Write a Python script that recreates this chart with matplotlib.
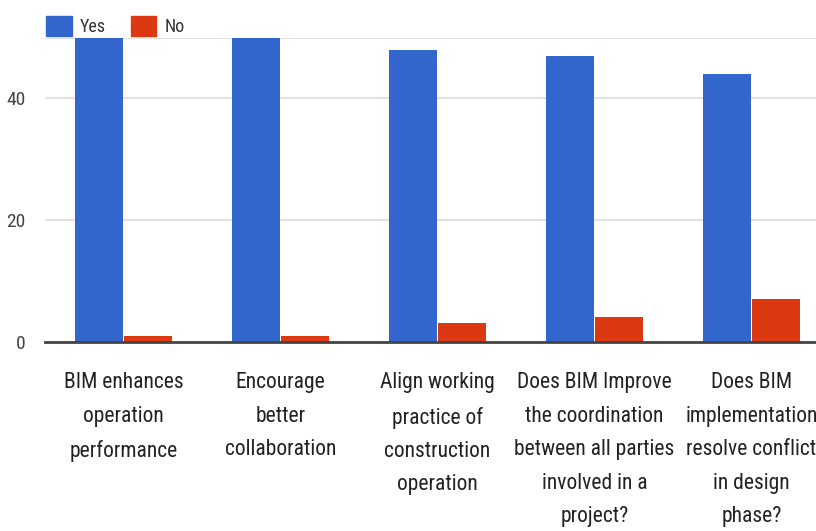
import numpy as np
import matplotlib.pyplot as plt
from matplotlib.patches import Patch

# survey answers per statement
categories = [
    "BIM enhances\noperation\nperformance",
    "Encourage\nbetter\ncollaboration",
    "Align working\npractice of\nconstruction\noperation",
    "Does BIM Improve\nthe coordination\nbetween all parties\ninvolved in a\nproject?",
    "Does BIM\nimplementation\nresolve conflict\nin design\nphase?",
]
yes_counts = [50, 50, 48, 47, 44]
no_counts = [1, 1, 3, 4, 7]
series_names = ["Yes", "No"]

blue = "#3366cc"
red = "#dc3912"
plt.rcParams['font.family'] = ['Roboto Condensed', 'Liberation Sans Narrow', 'Noto Sans', 'DejaVu Sans']
plt.rcParams['font.stretch'] = 'condensed'

fig = plt.figure(figsize=(8.16, 5.31), dpi=100)
ax = fig.add_axes([45 / 816, 189.3 / 531, 785 / 816, 304.2 / 531])

x = np.arange(len(categories))
w = 0.305
ax.bar(x - 0.157, yes_counts, w, color=blue)
ax.bar(x + 0.157, no_counts, w, color=red)

ax.set_xlim(-0.5, len(categories) - 0.5)
ax.set_ylim(0, 50)
ax.set_yticks([0, 20, 40, 50])
ax.set_yticklabels(["0", "20", "40", ""])
ax.yaxis.grid(True, color="#e2e2e2", linewidth=1.5)
ax.set_axisbelow(True)

for s in ["top", "right", "left"]:
    ax.spines[s].set_visible(False)
ax.spines["bottom"].set_color("#444444")
ax.spines["bottom"].set_linewidth(2)
ax.spines["bottom"].set_zorder(5)

ax.set_xticks(x)
ax.set_xticklabels(categories, fontsize=15.5, color="#222222", linespacing=1.78)
ax.tick_params(axis="x", length=0, pad=22)
ax.tick_params(axis="y", length=0, pad=14, labelsize=14, labelcolor="#444444")

# legend above the plot area
handles = [Patch(color=blue), Patch(color=red)]
fig.legend(handles, series_names, loc="upper left", bbox_to_anchor=(30 / 816, 1 - 0 / 531),
           ncol=2, frameon=False, fontsize=13, handlelength=1.4, handleheight=1.3,
           handletextpad=0.45, columnspacing=1.4, labelcolor="#333333")

plt.savefig("out.png", dpi=100)
